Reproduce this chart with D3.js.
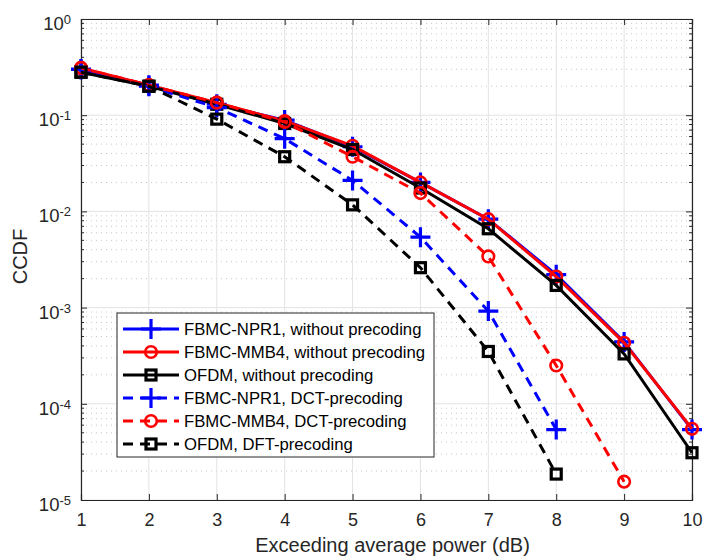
<!DOCTYPE html>
<html><head><meta charset="utf-8">
<script src="https://cdn.jsdelivr.net/npm/d3@7"></script>
<style>body{margin:0;background:#fff;} svg{display:block;font-family:"Liberation Sans",Arial,sans-serif;}</style>
</head><body><svg id="c" width="703" height="557"></svg>
<script>
const xValues = [1,2,3,4,5,6,7,8,9,10];
const npr1None = [0.30,0.205,0.13,0.089,0.047,0.020,0.0083,0.0022,0.00044,0.000054];
const mmb4None = [0.31,0.205,0.135,0.087,0.048,0.020,0.0083,0.0021,0.00043,0.000055];
const ofdmNone = [0.28,0.20,0.13,0.082,0.044,0.0175,0.0066,0.0017,0.00033,0.000031];
const npr1Dct = [0.30,0.20,0.12,0.057,0.021,0.0054,0.00092,0.000054];
const mmb4Dct = [0.31,0.205,0.135,0.085,0.037,0.0155,0.0034,0.00025,0.0000155];
const ofdmDft = [0.28,0.20,0.091,0.037,0.0117,0.0026,0.00035,0.0000186];
const seriesNames = ["FBMC-NPR1, without precoding","FBMC-MMB4, without precoding","OFDM, without precoding","FBMC-NPR1, DCT-precoding","FBMC-MMB4, DCT-precoding","OFDM, DFT-precoding"];
const xTicks = [1,2,3,4,5,6,7,8,9,10];
const yTickExps = [-5,-4,-3,-2,-1,0];

const series = [
  {name:seriesNames[0], vals:npr1None, color:"#0000ff", dash:null, marker:"plus"},
  {name:seriesNames[1], vals:mmb4None, color:"#ff0000", dash:null, marker:"circle"},
  {name:seriesNames[2], vals:ofdmNone, color:"#000000", dash:null, marker:"square"},
  {name:seriesNames[3], vals:npr1Dct, color:"#0000ff", dash:"10,7", marker:"plus"},
  {name:seriesNames[4], vals:mmb4Dct, color:"#ff0000", dash:"10,7", marker:"circle"},
  {name:seriesNames[5], vals:ofdmDft, color:"#000000", dash:"10,7", marker:"square"}
];

const svg = d3.select("#c");
const L=81, R=692, T=19, B=500;
const x = d3.scaleLinear().domain([1,10]).range([L,R]);
const y = d3.scaleLog().domain([1e-5,1]).range([B,T]);

// grid
const g = svg.append("g");
const minors=[];
for(let e=-5;e<0;e++) for(let k=2;k<=9;k++) minors.push(k*Math.pow(10,e));
g.selectAll(".mg").data(minors).enter().append("line")
  .attr("x1",L).attr("x2",R).attr("y1",d=>y(d)).attr("y2",d=>y(d))
  .attr("stroke","#c8c8c8").attr("stroke-width",1).attr("stroke-dasharray","1,4");
g.selectAll(".gx").data(xTicks).enter().append("line")
  .attr("x1",d=>x(d)).attr("x2",d=>x(d)).attr("y1",T).attr("y2",B)
  .attr("stroke","#e3e3e3").attr("stroke-width",1);
g.selectAll(".gy").data(yTickExps).enter().append("line")
  .attr("x1",L).attr("x2",R).attr("y1",d=>y(Math.pow(10,d))).attr("y2",d=>y(Math.pow(10,d)))
  .attr("stroke","#e3e3e3").attr("stroke-width",1);

// axes
const axB = svg.append("g").attr("transform",`translate(0,${B})`)
  .call(d3.axisBottom(x).tickValues(xTicks).tickSize(-6).tickPadding(13).tickFormat(d3.format("d")));
const axT = svg.append("g").attr("transform",`translate(0,${T})`)
  .call(d3.axisTop(x).tickValues(xTicks).tickSize(-6).tickFormat(""));
const axL = svg.append("g").attr("transform",`translate(${L},0)`)
  .call(d3.axisLeft(y).tickValues(yTickExps.map(e=>Math.pow(10,e))).tickSize(-6).tickFormat(""));
const axR = svg.append("g").attr("transform",`translate(${R},0)`)
  .call(d3.axisRight(y).tickValues(yTickExps.map(e=>Math.pow(10,e))).tickSize(-6).tickFormat(""));
[axB,axT,axL,axR].forEach(a=>{a.select(".domain").attr("stroke","#262626").attr("stroke-width",1.2);
  a.selectAll(".tick line").attr("stroke","#262626");});
axB.selectAll(".tick text").attr("font-size",18).attr("fill","#262626").attr("font-family","Liberation Sans, Arial, sans-serif");
// minor y ticks
[L,R].forEach((xx,i)=>{
  svg.selectAll(null).data(minors).enter().append("line")
    .attr("x1",xx).attr("x2",i===0?xx+3:xx-3).attr("y1",d=>y(d)).attr("y2",d=>y(d))
    .attr("stroke","#262626").attr("stroke-width",1);
});
// y tick labels with superscript
yTickExps.forEach(e=>{
  const t = svg.append("text").attr("x",L-10).attr("y",y(Math.pow(10,e))+11)
    .attr("text-anchor","end").attr("font-size",18.5).attr("fill","#262626");
  t.append("tspan").text("10");
  t.append("tspan").attr("dy",-6).attr("font-size",13).text(e);
});
// axis labels
svg.append("text").attr("x",(L+R)/2+6).attr("y",552).attr("text-anchor","middle")
  .attr("font-size",20).attr("fill","#262626").text("Exceeding average power (dB)");
svg.append("text").attr("transform",`translate(27,${(T+B)/2-3}) rotate(-90)`).attr("text-anchor","middle")
  .attr("font-size",20).attr("fill","#262626").text("CCDF");

// series
const plot = svg.append("g");
function drawMarker(sel, type, color, cx, cy){
  if(type==="plus"){
    sel.append("path").attr("d",`M${cx-10},${cy}H${cx+10}M${cx},${cy-10}V${cy+10}`)
      .attr("stroke",color).attr("stroke-width",3.2).attr("fill","none");
  } else if(type==="circle"){
    sel.append("circle").attr("cx",cx).attr("cy",cy).attr("r",5.8)
      .attr("stroke",color).attr("stroke-width",2.6).attr("fill","none");
  } else {
    sel.append("rect").attr("x",cx-5).attr("y",cy-5).attr("width",10).attr("height",10)
      .attr("stroke",color).attr("stroke-width",3.2).attr("fill","none");
  }
}
const line = d3.line().x((d,i)=>x(xValues[i])).y(d=>y(d));
series.forEach(s=>{
  plot.append("path").attr("d",line(s.vals)).attr("fill","none")
    .attr("stroke",s.color).attr("stroke-width",3).attr("stroke-dasharray",s.dash);
  s.vals.forEach((v,i)=>drawMarker(plot,s.marker,s.color,x(xValues[i]),y(v)));
});

// legend
const lg = svg.append("g");
lg.append("rect").attr("x",117).attr("y",313).attr("width",317).attr("height",144)
  .attr("fill","#fff").attr("stroke","#262626").attr("stroke-width",1);
series.forEach((s,i)=>{
  const cy = 329 + i*23;
  lg.append("line").attr("x1",123).attr("x2",179).attr("y1",cy).attr("y2",cy)
    .attr("stroke",s.color).attr("stroke-width",3).attr("stroke-dasharray",s.dash?"10,7":null);
  drawMarker(lg,s.marker,s.color,151,cy);
  lg.append("text").attr("x",184).attr("y",cy+6).attr("font-size",16.7).attr("fill","#000").text(s.name);
});
</script></body></html>
